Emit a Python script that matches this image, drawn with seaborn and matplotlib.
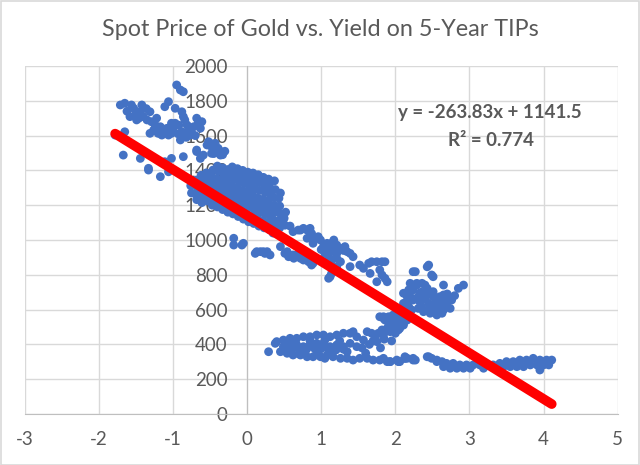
import matplotlib
matplotlib.use('Agg')
import matplotlib.pyplot as plt
import seaborn as sns
import numpy as np
import pandas as pd
from matplotlib.patches import Rectangle

# Excel trendline shown on the chart
SLOPE = -263.83
INTERCEPT = 1141.5
R2 = 0.774

TITLE = 'Spot Price of Gold vs. Yield on 5-Year TIPs'
X_TICKS = [-3, -2, -1, 0, 1, 2, 3, 4, 5]
Y_TICKS = [0, 200, 400, 600, 800, 1000, 1200, 1400, 1600, 1800, 2000]

# (TIPS yield %, gold $/oz), grouped by region
top_left = [
    (-1.71, 1776), (-1.65, 1786), (-1.56, 1776), (-1.53, 1757), (-1.42, 1776),
    (-1.44, 1737), (-1.51, 1718), (-1.58, 1709), (-1.49, 1690), (-1.40, 1709),
    (-1.31, 1737), (-1.29, 1680), (-1.24, 1661), (-1.17, 1651), (-1.13, 1632),
    (-1.08, 1642), (-1.04, 1622), (-1.06, 1603), (-1.15, 1603), (-1.20, 1613),
    (-1.11, 1766), (-1.06, 1795), (-0.97, 1757), (-0.88, 1737), (-0.86, 1709),
    (-0.84, 1690), (-0.81, 1661), (-0.88, 1622), (-0.79, 1632), (-0.72, 1651),
    (-0.66, 1671), (-0.61, 1680), (-0.63, 1642), (-0.77, 1603), (-0.90, 1575),
    (-0.97, 1671), (-1.02, 1671), (-0.95, 1891), (-0.90, 1862), (-0.86, 1852),
    (-1.02, 1613), (-1.31, 1613), (-1.26, 1632), (-1.78, 1603), (-1.65, 1622),
    (-1.62, 1740), (-1.36, 1755), (-1.22, 1700), (-1.00, 1640), (-0.93, 1610),
    (-0.75, 1620), (-0.70, 1600), (-0.68, 1700), (-0.82, 1590), (-1.46, 1700),
    (-1.35, 1690), (-1.18, 1630), (-0.92, 1660),
]

left_scatter = [
    (-1.67, 1488), (-1.44, 1469), (-1.33, 1402), (-1.17, 1364), (-1.11, 1450),
    (-1.02, 1469), (-0.86, 1479), (-0.68, 1517), (-1.06, 1392), (-1.33, 1412),
    (-0.63, 1469),
]

transition = [
    (-0.54, 1546), (-0.50, 1556), (-0.48, 1498), (-0.43, 1517), (-0.39, 1527),
    (-0.36, 1488), (-0.45, 1498), (-0.41, 1527), (-0.36, 1508), (-0.52, 1565),
    (-0.33, 1490), (-0.30, 1510), (-0.68, 1508), (-0.59, 1488), (-0.43, 1556),
    (-0.52, 1556), (-0.48, 1536), (-0.41, 1527), (-0.36, 1508), (-0.45, 1498),
]

dense_core = [
    (-0.75, 1270), (-0.76, 1312), (-0.74, 1338),
    (-0.68, 1232), (-0.69, 1266), (-0.67, 1302), (-0.68, 1345),
    (-0.61, 1215), (-0.62, 1252), (-0.60, 1288), (-0.61, 1332), (-0.62, 1372),
    (-0.54, 1225), (-0.55, 1268), (-0.53, 1310), (-0.54, 1352), (-0.55, 1386),
    (-0.47, 1200), (-0.48, 1242), (-0.46, 1285), (-0.47, 1326), (-0.48, 1365), (-0.46, 1402),
    (-0.40, 1190), (-0.41, 1235), (-0.39, 1272), (-0.40, 1310), (-0.41, 1352), (-0.39, 1395), (-0.40, 1425),
    (-0.33, 1175), (-0.34, 1216), (-0.32, 1255), (-0.33, 1300), (-0.34, 1342), (-0.32, 1380), (-0.33, 1415),
    (-0.26, 1160), (-0.27, 1205), (-0.25, 1246), (-0.26, 1286), (-0.27, 1325), (-0.25, 1366), (-0.26, 1405),
    (-0.19, 1150), (-0.20, 1190), (-0.18, 1232), (-0.19, 1270), (-0.20, 1312), (-0.18, 1350), (-0.19, 1390), (-0.20, 1420),
    (-0.12, 1135), (-0.13, 1176), (-0.11, 1220), (-0.12, 1262), (-0.13, 1300), (-0.11, 1340), (-0.12, 1380), (-0.13, 1410),
    (-0.05, 1120), (-0.06, 1160), (-0.04, 1202), (-0.05, 1245), (-0.06, 1285), (-0.04, 1326), (-0.05, 1365), (-0.06, 1400),
    (0.02, 1105), (0.01, 1146), (0.03, 1190), (0.02, 1230), (0.01, 1272), (0.03, 1310), (0.02, 1350), (0.01, 1390),
    (0.09, 1095), (0.08, 1135), (0.10, 1176), (0.09, 1215), (0.08, 1256), (0.10, 1295), (0.09, 1340), (0.08, 1385),
    (0.16, 1080), (0.15, 1120), (0.17, 1160), (0.16, 1202), (0.15, 1240), (0.17, 1285), (0.16, 1330), (0.15, 1375),
    (0.23, 1070), (0.22, 1110), (0.24, 1150), (0.23, 1190), (0.22, 1235), (0.24, 1276), (0.23, 1320), (0.22, 1360),
    (0.30, 1060), (0.29, 1100), (0.31, 1140), (0.30, 1185), (0.29, 1226), (0.31, 1265), (0.30, 1310), (0.29, 1350),
    (0.37, 1075), (0.36, 1115), (0.38, 1160), (0.37, 1200), (0.36, 1245), (0.38, 1290), (0.37, 1340),
    (0.44, 1070), (0.43, 1110), (0.45, 1150), (0.44, 1195), (0.43, 1240), (0.45, 1270),
    (0.51, 1085), (0.50, 1125), (0.52, 1160),
]

near_1000 = [
    (-0.18, 1010), (-0.18, 971), (-0.05, 981), (-0.07, 971), (0.11, 923),
    (0.18, 933), (0.24, 923), (0.31, 914), (0.13, 933), (0.27, 933), (0.22, 933),
]

middle_band = [
    (0.45, 962), (0.54, 933), (0.62, 914), (0.72, 895), (0.81, 885), (0.89, 866),
    (0.99, 885), (1.08, 923), (1.12, 962), (1.17, 1000), (0.99, 1000), (1.08, 981),
    (0.89, 981), (0.81, 1010), (1.21, 847), (0.51, 923), (0.56, 904), (0.63, 895),
    (0.67, 914), (0.76, 885), (0.83, 875), (0.87, 856), (0.62, 1048), (0.72, 1057),
    (0.81, 1057), (0.85, 1067), (0.69, 1057), (0.76, 1067), (0.83, 1057), (0.87, 1038),
    (0.45, 1115), (0.49, 1090), (0.58, 1080), (0.40, 1057), (0.35, 1040), (0.89, 1000),
    (0.96, 1019), (1.03, 962), (1.17, 933), (1.21, 923), (1.26, 952), (1.32, 962),
    (1.35, 933), (1.39, 923), (1.43, 904), (1.14, 981), (1.21, 971), (1.05, 923),
    (1.10, 904), (1.14, 885), (1.21, 895), (1.26, 875), (1.12, 789), (1.14, 808),
    (1.10, 780), (1.39, 847), (1.52, 856), (1.57, 837), (1.64, 866), (1.68, 875),
    (1.75, 875), (1.82, 875), (1.86, 875), (1.66, 808), (1.79, 828), (1.82, 799),
    (1.86, 780), (1.89, 760), (1.75, 760), (1.30, 940), (1.00, 945),
]

rising_cluster = [
    (1.84, 550), (1.91, 559), (1.97, 569), (2.02, 540), (2.06, 511), (2.11, 521),
    (2.16, 540), (2.02, 502), (1.95, 492), (1.89, 483), (2.06, 598), (2.13, 617),
    (2.16, 646), (2.20, 674), (2.24, 713), (2.29, 741), (2.36, 751), (2.43, 722),
    (2.51, 703), (2.24, 818), (2.43, 846), (2.49, 799), (2.45, 856), (2.51, 789),
    (2.27, 818), (2.20, 751), (2.24, 741), (2.29, 751), (2.40, 741), (2.65, 741),
    (2.85, 722), (2.92, 741), (2.11, 694), (2.18, 713), (2.24, 722), (2.16, 674),
    (2.33, 694), (2.43, 684), (2.51, 674), (2.60, 674), (2.65, 684), (2.69, 655),
    (2.76, 655), (2.24, 655), (2.33, 645), (2.45, 636), (2.56, 626), (2.63, 636),
    (2.69, 626), (2.74, 607), (2.43, 598), (2.51, 588), (2.60, 588), (2.65, 598),
    (2.11, 636), (2.18, 617), (2.22, 598), (2.31, 607), (2.38, 588), (2.47, 579),
    (2.56, 569), (2.63, 579), (2.09, 559), (2.11, 511), (2.06, 492), (1.84, 454),
    (1.93, 473), (1.98, 492), (2.02, 531), (1.79, 559), (1.86, 540), (1.91, 521),
    (2.35, 700), (2.55, 650), (2.40, 660), (2.30, 670), (2.70, 690), (2.80, 680),
    (2.50, 610), (2.35, 620),
]

lower_band = [
    (0.40, 416), (0.49, 425), (0.58, 435), (0.67, 435), (0.76, 444), (0.85, 444),
    (0.94, 454), (1.03, 454), (1.12, 444), (1.21, 454), (1.30, 464), (1.39, 464),
    (1.43, 473), (1.48, 444), (1.57, 425), (1.62, 473), (1.68, 464), (1.73, 444),
    (1.77, 464), (1.82, 483), (1.89, 492), (1.93, 511), (1.97, 521), (2.02, 540),
    (2.06, 559), (2.11, 540), (2.16, 550), (1.84, 559), (1.93, 550), (2.00, 464),
    (2.04, 483), (1.75, 416), (0.45, 358), (0.54, 349), (0.62, 339), (0.72, 339),
    (0.81, 329), (0.89, 329), (0.99, 329), (1.08, 339), (1.16, 329), (1.26, 320),
    (1.35, 320), (1.43, 310), (1.52, 320), (1.62, 320), (1.70, 310), (1.79, 310),
    (1.89, 301), (1.93, 301), (2.04, 301), (2.13, 320), (2.24, 310), (0.49, 387),
    (0.58, 387), (0.67, 397), (0.76, 387), (0.85, 397), (0.94, 406), (1.03, 406),
    (1.12, 387), (1.21, 397), (1.30, 387), (1.39, 406), (1.48, 387), (1.12, 358),
    (0.94, 358), (0.76, 358), (1.35, 358), (0.29, 358), (0.38, 406), (0.50, 370),
    (0.60, 365), (0.70, 375), (0.80, 370), (0.90, 380), (1.00, 375), (1.10, 372),
    (1.20, 368), (1.30, 372), (0.55, 410), (0.65, 415), (0.85, 420), (1.05, 425),
    (1.25, 420), (0.70, 345), (0.95, 345), (1.05, 320), (1.60, 350), (1.55, 380),
    (1.65, 400), (1.80, 380), (1.70, 420), (1.85, 430), (1.95, 420),
]

bottom_right = [
    (2.13, 320), (2.27, 310), (2.45, 329), (2.49, 320), (2.56, 310), (2.63, 301),
    (2.69, 291), (2.78, 291), (2.87, 282), (2.96, 282), (3.05, 282), (3.14, 282),
    (3.23, 282), (3.32, 282), (3.41, 291), (3.50, 301), (3.59, 301), (3.68, 310),
    (3.77, 310), (3.86, 320), (3.95, 310), (4.04, 310), (2.65, 272), (2.74, 263),
    (2.83, 263), (2.92, 263), (3.01, 263), (3.19, 263), (3.37, 263), (3.46, 272),
    (3.55, 272), (3.64, 272), (3.73, 272), (3.82, 282), (3.91, 282), (4.00, 282),
    (4.11, 310), (4.07, 282), (3.95, 253), (1.84, 320), (1.93, 301), (2.06, 301),
    (2.16, 320), (2.24, 320), (2.43, 329), (2.02, 310), (2.13, 329), (2.56, 301),
]

points = (top_left + left_scatter + transition + dense_core + near_1000
          + middle_band + rising_cluster + lower_band + bottom_right)
df = pd.DataFrame(points, columns=['tips_yield', 'gold_price'])

sns.set_style('white')
plt.rcParams['font.family'] = ['Lato', 'DejaVu Sans']

W, H = 640, 465
fig = plt.figure(figsize=(W / 100, H / 100), dpi=100)
fig.patches.append(Rectangle((0.5 / W, 0.5 / H), 1 - 1.5 / W, 1 - 1.5 / H,
                             transform=fig.transFigure, fill=False,
                             edgecolor='#D9D9D9', linewidth=1.2))

left, right, top, bottom = 24.7, 617.7, 66, 414
ax = fig.add_axes([left / W, 1 - bottom / H, (right - left) / W, (bottom - top) / H])

sns.scatterplot(data=df, x='tips_yield', y='gold_price', ax=ax, color='#4472C4',
                s=40, edgecolor='none', linewidth=0, zorder=3, legend=False)

# linear trendline over the data range
xs = np.array([df['tips_yield'].min(), df['tips_yield'].max()])
ax.plot(xs, SLOPE * xs + INTERCEPT, color='#FF0000', lw=7,
        solid_capstyle='round', zorder=4)

ax.set_xlim(-3, 5)
ax.set_ylim(0, 2000)
ax.set_xticks(X_TICKS)
ax.set_yticks(Y_TICKS)
ax.set_xticklabels([str(t) for t in X_TICKS])
ax.set_yticklabels([str(t) for t in Y_TICKS])
ax.set_xlabel('')
ax.set_ylabel('')
ax.grid(True, color='#D9D9D9', linewidth=1)
ax.set_axisbelow(True)

for side in ['top', 'right']:
    ax.spines[side].set_visible(False)
ax.spines['left'].set_position(('data', 0))
ax.spines['left'].set_color('#BFBFBF')
ax.spines['bottom'].set_color('#BFBFBF')
ax.tick_params(axis='both', length=0, labelsize=13.5, colors='#595959')
ax.tick_params(axis='x', pad=12)
ax.tick_params(axis='y', pad=14)

ax.text(3.28, 1730, f'y = {SLOPE}x + {INTERCEPT}', ha='center', va='center',
        fontsize=13.5, fontweight='bold', color='#595959', zorder=5)
ax.text(3.29, 1569, f'R² = {R2}', ha='center', va='center',
        fontsize=13.5, fontweight='bold', color='#595959', zorder=5)

fig.text(0.5, 1 - 30 / H, TITLE, ha='center', va='center', fontsize=16.8,
         color='#595959')

fig.savefig('out.png', dpi=100)
